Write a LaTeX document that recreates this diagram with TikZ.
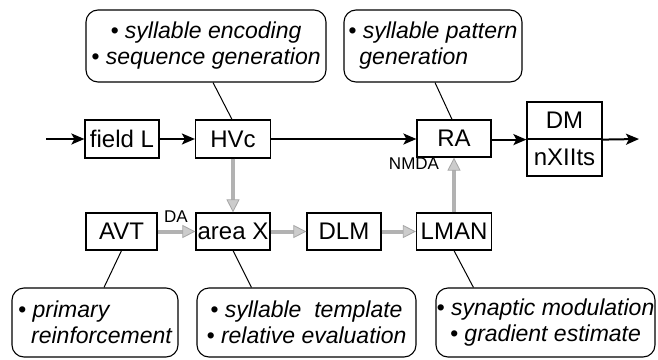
\documentclass[tikz,border=0pt]{standalone}
\usepackage{fontspec}
\setmainfont{Liberation Sans}
\usetikzlibrary{arrows.meta}
\begin{document}
\begin{tikzpicture}[x=1pt,y=-1pt,
  box/.style={draw, line width=1.2pt, inner sep=0pt, font=\fontsize{24}{26}\selectfont},
  bubble/.style={draw, line width=1.1pt, rounded corners=12pt, inner sep=0pt, font=\fontsize{23}{26}\selectfont\itshape},
  blk/.style={line width=2pt, -{Stealth[length=13pt,width=11pt,inset=3pt]}},
  gry/.style={line width=4pt, draw=gray!60, -{Triangle[length=13pt,width=13pt,fill=gray!40,color=gray!70,line width=0.8pt]}},
  lbl/.style={font=\fontsize{17}{18}\selectfont, inner sep=0pt},
  tie/.style={line width=1pt}]
\useasboundingbox (0,0) rectangle (658,359);
% top row
\node[box, minimum width=74pt, minimum height=38pt] (fieldL) at (122,139) {field L};
\node[box, minimum width=75pt, minimum height=38pt] (HVc) at (233,139) {HVc};
\node[box, minimum width=74pt, minimum height=37pt] (RA) at (454,138.5) {RA};
\node[box, minimum width=75pt, minimum height=37pt] (DM) at (564.5,120.5) {DM};
\node[box, minimum width=75pt, minimum height=37pt] (nX) at (564.5,157.5) {nXIIts};
% bottom row
\node[box, minimum width=71pt, minimum height=37pt] (AVT) at (121.5,231.5) {AVT};
\node[box, minimum width=74pt, minimum height=37pt] (areaX) at (233,231.5) {area X};
\node[box, minimum width=74pt, minimum height=37pt] (DLM) at (344,231.5) {DLM};
\node[box, minimum width=75pt, minimum height=37pt] (LMAN) at (454,231.5) {LMAN};
% bubbles
\node[bubble, align=center, minimum width=240pt, minimum height=72pt] (tb1) at (206,46) {• syllable encoding\\• sequence generation};
\node[bubble, align=left, minimum width=178pt, minimum height=72pt] (tb2) at (433,46) {• syllable pattern\\\hspace{11pt}generation};
\node[bubble, align=left, minimum width=166pt, minimum height=69pt] (bb1) at (95,322.5) {• primary\\\hspace{13pt}reinforcement};
\node[bubble, align=center, minimum width=219pt, minimum height=69pt] (bb2) at (306.5,322.5) {• syllable\ \ template\\• relative evaluation};
\node[bubble, align=center, minimum width=219pt, minimum height=69pt] (bb3) at (545.5,322.5) {• synaptic modulation\\• gradient estimate};
% labels
\node[lbl] (DA) at (176,217) {DA};
\node[lbl] (NMDA) at (414,164) {NMDA};
% black arrows
\coordinate (in) at (46,139);
\coordinate (out) at (639,139);
\draw[blk] (in) -- (fieldL);
\draw[blk] (fieldL) -- (HVc);
\draw[blk] (HVc) -- (HVc -| RA.west);
\draw[blk] (RA.east |- DM.south west) -- (DM.south west);
\draw[blk] (DM.south east) -- (out);
% grey arrows
\draw[gry] (HVc) -- (areaX);
\draw[gry] (AVT) -- (areaX);
\draw[gry] (areaX) -- (DLM);
\draw[gry] (DLM) -- (LMAN);
\draw[gry] (LMAN) -- (RA);
% ties
\draw[tie] ([xshift=7pt]tb1.south) -- ([xshift=-1pt]HVc.north);
\draw[tie] ([xshift=2pt]tb2.south) -- ([xshift=-2pt]RA.north);
\draw[tie] (AVT.south) -- ([xshift=9pt]bb1.north);
\draw[tie] (areaX.south) -- ([xshift=55pt]bb2.north west);
\draw[tie] (LMAN.south) -- ([xshift=38pt]bb3.north west);
\end{tikzpicture}
\end{document}
